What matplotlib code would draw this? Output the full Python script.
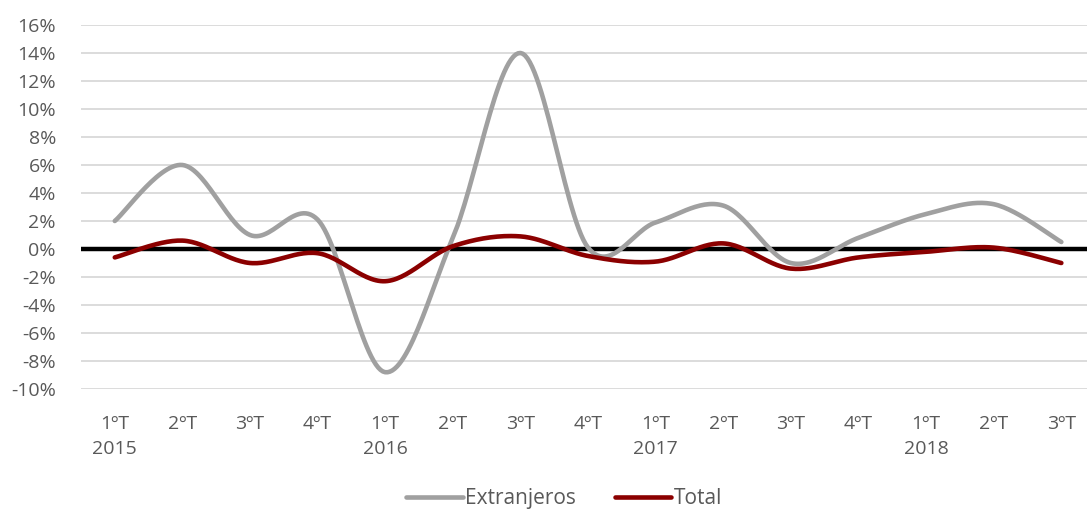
""" Variación trimestral: Extranjeros vs Total """

import matplotlib.pyplot as plt
import numpy as np

plt.rcParams['font.family'] = ['Open Sans', 'DejaVu Sans']

# Data (percent)
quarters = ["1ºT", "2ºT", "3ºT", "4ºT", "1ºT", "2ºT", "3ºT", "4ºT",
            "1ºT", "2ºT", "3ºT", "4ºT", "1ºT", "2ºT", "3ºT"]
years = ["2015", "", "", "", "2016", "", "", "", "2017", "", "", "", "2018", "", ""]
extranjeros = [2.0, 6.0, 1.0, 2.1, -8.8, 0.8, 14.0, 0.1, 1.9, 3.1, -1.0, 0.8, 2.5, 3.2, 0.5]
total = [-0.6, 0.6, -1.0, -0.3, -2.3, 0.2, 0.9, -0.5, -0.9, 0.4, -1.4, -0.6, -0.2, 0.1, -1.0]


def smooth(x, y, n=30):
    """ Excel-like smoothed line (Catmull-Rom Bezier segments) """
    x = np.asarray(x, float)
    y = np.asarray(y, float)
    px = np.concatenate([[x[0]], x, [x[-1]]])
    py = np.concatenate([[y[0]], y, [y[-1]]])
    xs, ys = [], []
    t = np.linspace(0, 1, n)
    for i in range(1, len(px) - 2):
        p0 = np.array([px[i], py[i]])
        p3 = np.array([px[i + 1], py[i + 1]])
        c1 = p0 + (p3 - np.array([px[i - 1], py[i - 1]])) / 6
        c2 = p3 - (np.array([px[i + 2], py[i + 2]]) - p0) / 6
        b = ((1 - t) ** 3)[:, None] * p0 + (3 * (1 - t) ** 2 * t)[:, None] * c1 \
            + (3 * (1 - t) * t ** 2)[:, None] * c2 + (t ** 3)[:, None] * p3
        xs.extend(b[:, 0])
        ys.extend(b[:, 1])
    return np.array(xs), np.array(ys)


fig = plt.figure(figsize=(10.87, 5.12), dpi=100)
ax = fig.add_axes([0.0745, 0.2402, 0.933, 0.711])

x = np.arange(len(quarters))

# Gridlines and zero line
for v in range(-10, 17, 2):
    if v != 0:
        ax.axhline(v, color="#D9D9D9", lw=1.3, zorder=0)
ax.axhline(0, color="black", lw=3.2, zorder=1)

sx, sy = smooth(x, extranjeros)
ax.plot(sx, sy, color="#A0A0A0", lw=3.3, solid_capstyle="round", label="Extranjeros", zorder=2)
sx, sy = smooth(x, total)
ax.plot(sx, sy, color="#8B0000", lw=3.3, solid_capstyle="round", label="Total", zorder=3)

ax.set_xlim(-0.5, len(quarters) - 0.5)
ax.set_ylim(-10, 16)
ax.set_yticks(range(-10, 17, 2))
ax.set_yticklabels([f"{v}%" for v in range(-10, 17, 2)])
ax.set_xticks(x)
ax.set_xticklabels([f"{q}\n{yr}" if yr else q for q, yr in zip(quarters, years)],
                   va="top", linespacing=1.45)

ax.tick_params(axis="both", length=0, labelsize=14, colors="#595959")
ax.tick_params(axis="x", pad=19)
ax.tick_params(axis="y", pad=18)
for s in ax.spines.values():
    s.set_visible(False)

fig.legend(loc="center", bbox_to_anchor=(0.519, 0.026), ncol=2, frameon=False,
           fontsize=15, labelcolor="#595959", handlelength=2.7, handletextpad=0.1,
           columnspacing=1.9)

plt.savefig("out.png", dpi=100)
